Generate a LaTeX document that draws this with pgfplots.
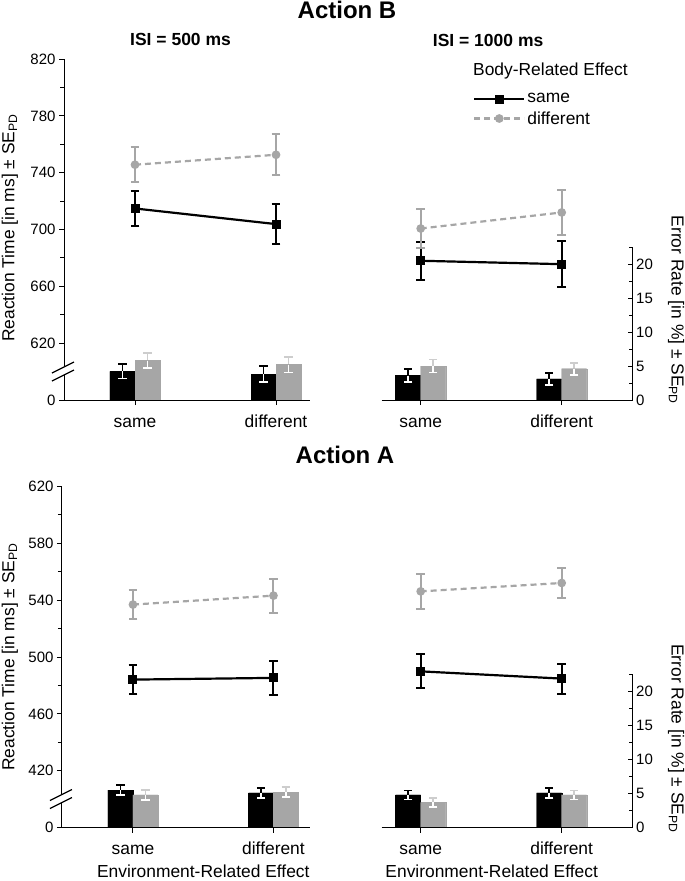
\documentclass[border=0pt]{standalone}
\usepackage{pgfplots}
\pgfplotsset{compat=1.18}
\usepackage{pgfplotstable}
\usepackage{fontspec}
\setmainfont{Liberation Sans}
\definecolor{lgray}{RGB}{166,166,166}
\definecolor{egray}{RGB}{205,205,205}

% x: 0 = same, 1 = different (Environment-Related Effect)
% rtb/rtbe: RT body same (+SE); rtg/rtge: RT body different; erb/erg: error rates
\pgfplotstableread{
x rtb rtbe rtg rtge erb erbe erg erge
0 714.8 12.3 745.6 12.5 4.2 1.06 5.8 1.07
1 703.8 14.2 752.6 14.5 3.8 1.18 5.2 1.15
}\tabTL
\pgfplotstableread{
x rtb rtbe rtg rtge erb erbe erg erge
0 678.0 13.5 700.7 13.6 3.6 0.93 5.0 0.98
1 675.6 16.0 712.0 15.7 3.1 0.86 4.6 0.88
}\tabTR
\pgfplotstableread{
x rtb rtbe rtg rtge erb erbe erg erge
0 484.1 10.0 536.9 10.0 5.5 0.75 4.8 0.76
1 485.3 12.2 543.2 12.0 5.1 0.73 5.2 0.73
}\tabBL
\pgfplotstableread{
x rtb rtbe rtg rtge erb erbe erg erge
0 489.9 12.0 546.2 12.1 4.8 0.66 3.7 0.64
1 484.8 10.6 552.1 10.8 5.1 0.74 4.8 0.66
}\tabBR

\tikzset{lab/.style={font=\fontsize{17.4}{20}\selectfont}}
\pgfplotsset{
  barsax/.style={scale only axis, anchor=south west, height=341pt, ymin=0, ymax=50.15, hide axis, clip=false},
  rtax/.style={scale only axis, anchor=south west, height=341pt, clip=false,
    axis x line*=bottom, axis line style={line width=1pt,-},
    xtick={0,1}, xticklabels={same,different},
    tick align=outside, major tick length=5pt, minor tick length=4pt,
    tick style={black, line width=1pt},
    xticklabel style={font=\fontsize{17.4}{20}\selectfont, text height=12.5pt, text depth=3.5pt, inner sep=0pt, anchor=north, yshift=-9.5pt},
    yticklabel style={font=\fontsize{15}{17}\selectfont}},
  erax/.style={scale only axis, anchor=south west, height=153pt, ymin=0, ymax=22.5, xmin=0, xmax=1,
    axis x line=none, axis y line*=right, axis line style={line width=1pt,-},
    ytick={0,5,10,15,20}, yticklabels={0,5,10,15,20}, minor ytick={2.5,7.5,12.5,17.5,22.5},
    tick align=inside, major tick length=5pt, minor tick length=4pt,
    tick style={black, line width=1pt}, yticklabel pos=right,
    yticklabel style={font=\fontsize{15}{17}\selectfont, anchor=west}},
  ebar/.style 2 args={error bars/.cd, y dir=#1, y explicit,
    error bar style={#2, line width=1.6pt, solid},
    error mark options={#2, rotate=90, mark size=4.2pt, line width=1.6pt, solid}},
  lsame/.style={black, line width=2.2pt, mark=square*, mark size=3.4pt, mark options={solid},
    error bars/.cd, y dir=both, y explicit,
    error bar style={black, line width=2pt, solid},
    error mark options={black, rotate=90, mark size=4.4pt, line width=2pt, solid}},
  ldiff/.style={lgray, line width=2.2pt, dash pattern=on 6pt off 4pt, mark=*, mark size=3.2pt, mark options={solid},
    error bars/.cd, y dir=both, y explicit,
    error bar style={lgray, line width=2pt, solid},
    error mark options={lgray, rotate=90, mark size=4.4pt, line width=2pt, solid}},
}

% bar centres: 12.5pt (half a bar) left / right of the category
\newcommand{\bars}[1]{%
  \addplot[ybar, bar width=25pt, bar shift=0pt, fill=black, draw=black, ebar={plus}{black}] table[x expr=\thisrow{x}-0.0887, y=erb, y error=erbe] {#1};
  \addplot[ybar, bar width=25pt, bar shift=0pt, fill=black, draw=black, ebar={minus}{white}] table[x expr=\thisrow{x}-0.0887, y=erb, y error=erbe] {#1};
  \addplot[ybar, bar width=25pt, bar shift=0pt, fill=lgray, draw=lgray, ebar={plus}{egray}] table[x expr=\thisrow{x}+0.0887, y=erg, y error=erge] {#1};
  \addplot[ybar, bar width=25pt, bar shift=0pt, fill=lgray, draw=lgray, ebar={minus}{white}] table[x expr=\thisrow{x}+0.0887, y=erg, y error=erge] {#1};
}

\begin{document}
\begin{tikzpicture}[x=1pt,y=1pt]
\useasboundingbox (0,0) rectangle (685,-881);

% ================= Top-left: Action B, ISI 500
\begin{axis}[barsax, at={(64pt,-400pt)}, width=246pt, xmin=-0.5035, xmax=1.241]
\bars{\tabTL}
\end{axis}
\begin{axis}[rtax, at={(64pt,-400pt)}, width=246pt, xmin=-0.5035, xmax=1.241,
  ymin=580, ymax=820, axis y line*=left,
  ytick={580,620,660,700,740,780,820}, yticklabels={0,620,660,700,740,780,820},
  minor ytick={640,680,720,760,800}]
\addplot[ldiff] table[x=x, y=rtg, y error=rtge] {\tabTL};
\addplot[lsame] table[x=x, y=rtb, y error=rtbe] {\tabTL};
\end{axis}

% ================= Top-right: Action B, ISI 1000
\begin{axis}[barsax, at={(381.7pt,-400pt)}, width=251pt, xmin=-0.2766, xmax=1.5035]
\bars{\tabTR}
\end{axis}
\begin{axis}[rtax, at={(381.7pt,-400pt)}, width=251pt, xmin=-0.2766, xmax=1.5035,
  ymin=580, ymax=820, axis y line=none, ytick=\empty,
  legend style={at={(0.3637,0.905)}, anchor=north west, draw=none, fill=none, inner sep=0pt,
    font=\fontsize{17.4}{20}\selectfont, row sep=3pt},
  legend cell align=left,
  legend image code/.code={\draw[mark repeat=2,mark phase=2,#1] plot coordinates {(0pt,0pt) (25pt,0pt) (50pt,0pt)};}]
\addplot[lsame] table[x=x, y=rtb, y error=rtbe] {\tabTR};
\addlegendentry{same}
\addplot[ldiff] table[x=x, y=rtg, y error=rtge] {\tabTR};
\addlegendentry{different}
\end{axis}
\begin{axis}[erax, at={(381.7pt,-400pt)}, width=251pt]
\end{axis}

% ================= Bottom-left: Action A, ISI 500
\begin{axis}[barsax, at={(62pt,-827.5pt)}, width=248pt, xmin=-0.505, xmax=1.26]
\bars{\tabBL}
\end{axis}
\begin{axis}[rtax, at={(62pt,-827.5pt)}, width=248pt, xmin=-0.505, xmax=1.26,
  ymin=380, ymax=620, axis y line*=left,
  ytick={380,420,460,500,540,580,620}, yticklabels={0,420,460,500,540,580,620},
  minor ytick={440,480,520,560,600}]
\addplot[ldiff] table[x=x, y=rtg, y error=rtge] {\tabBL};
\addplot[lsame] table[x=x, y=rtb, y error=rtbe] {\tabBL};
\end{axis}

% ================= Bottom-right: Action A, ISI 1000
\begin{axis}[barsax, at={(381.7pt,-827.5pt)}, width=251pt, xmin=-0.2766, xmax=1.5035]
\bars{\tabBR}
\end{axis}
\begin{axis}[rtax, at={(381.7pt,-827.5pt)}, width=251pt, xmin=-0.2766, xmax=1.5035,
  ymin=380, ymax=620, axis y line=none, ytick=\empty]
\addplot[ldiff] table[x=x, y=rtg, y error=rtge] {\tabBR};
\addplot[lsame] table[x=x, y=rtb, y error=rtbe] {\tabBR};
\end{axis}
\begin{axis}[erax, at={(381.7pt,-827.5pt)}, width=251pt]
\end{axis}

% ---- axis breaks
\foreach \ax/\ay in {64/-400, 62/-827.5}{
  \fill[white] (\ax-12,\ay+27) -- (\ax+10,\ay+38) -- (\ax+10,\ay+30) -- (\ax-12,\ay+19) -- cycle;
  \draw[line width=1.3pt] (\ax-12,\ay+27) -- (\ax+10,\ay+38);
  \draw[line width=1.3pt] (\ax-12,\ay+19) -- (\ax+10,\ay+30);
}

% ---- titles and labels
\node[font=\bfseries\fontsize{24}{28}\selectfont, anchor=base, inner sep=0pt] at (347,-18.3) {Action B};
\node[font=\bfseries\fontsize{24}{28}\selectfont, anchor=base, inner sep=0pt] at (345,-463.3) {Action A};
\node[font=\bfseries\fontsize{17.5}{20}\selectfont, anchor=base west, inner sep=0pt] at (130,-45) {ISI = 500 ms};
\node[font=\bfseries\fontsize{17.5}{20}\selectfont, anchor=base west, inner sep=0pt] at (432.7,-46.5) {ISI = 1000 ms};
\node[lab, anchor=base west, inner sep=0pt] at (473,-75) {Body-Related Effect};
\node[lab, rotate=90, inner sep=0pt] at (10,-228) {Reaction Time [in ms] ± SE\textsubscript{PD}};
\node[lab, rotate=90, inner sep=0pt] at (10,-657) {Reaction Time [in ms] ± SE\textsubscript{PD}};
\node[lab, rotate=-90, inner sep=0pt] at (676,-310) {Error Rate [in \%] ± SE\textsubscript{PD}};
\node[lab, rotate=-90, inner sep=0pt] at (676,-738.5) {Error Rate [in \%] ± SE\textsubscript{PD}};
\node[lab, anchor=base, inner sep=0pt] at (203.3,-877.3) {Environment-Related Effect};
\node[lab, anchor=base, inner sep=0pt] at (491.7,-877.3) {Environment-Related Effect};
\end{tikzpicture}
\end{document}
